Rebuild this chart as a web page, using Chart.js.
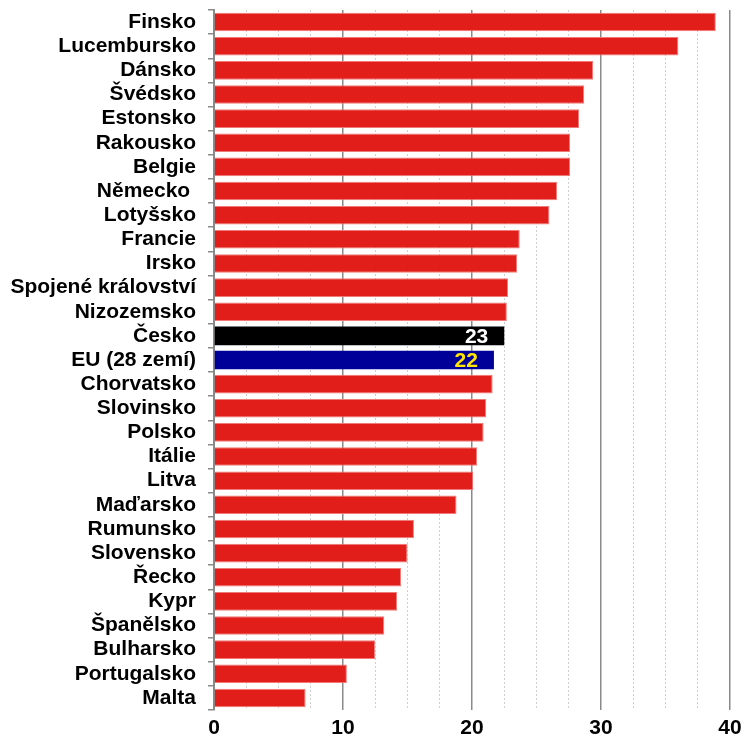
<!DOCTYPE html>
<html>
<head>
<meta charset="utf-8">
<script src="https://cdn.jsdelivr.net/npm/chart.js@4.4.1/dist/chart.umd.min.js"></script>
<style>
  html, body { margin: 0; padding: 0; background: #fff; }
  #obal { width: 744px; height: 744px; }
</style>
</head>
<body>
<div id="obal"><canvas id="graf"></canvas></div>
<script>
const zeme = ['Finsko', 'Lucembursko', 'Dánsko', 'Švédsko', 'Estonsko', 'Rakousko', 'Belgie', 'Německo ', 'Lotyšsko',
    'Francie', 'Irsko', 'Spojené království', 'Nizozemsko', 'Česko', 'EU (28 zemí)', 'Chorvatsko', 'Slovinsko',
    'Polsko', 'Itálie', 'Litva', 'Maďarsko', 'Rumunsko', 'Slovensko', 'Řecko', 'Kypr', 'Španělsko', 'Bulharsko',
    'Portugalsko', 'Malta'];
const hodnoty = [38.9, 36.0, 29.4, 28.7, 28.3, 27.6, 27.6, 26.6, 26.0,
    23.7, 23.5, 22.8, 22.7, 22.5, 21.7, 21.6, 21.1,
    20.9, 20.4, 20.1, 18.8, 15.5, 15.0, 14.5, 14.2, 13.2, 12.5,
    10.3, 7.1];
const osaX = [0, 10, 20, 30, 40];

const PISMO = '"Liberation Sans", Arial, Helvetica, sans-serif';
const CERVENA = '#e21e1a';
const SEDA = '#8a8a8a';

// zvýrazněné řádky: barva sloupce a barva čísla
const zvyrazneni = {
    'Česko': { sloupec: '#000000', text: '#ffffff' },
    'EU (28 zemí)': { sloupec: '#000099', text: '#ffe500' }
};

const popiskyHodnot = {
    id: 'popiskyHodnot',
    afterDatasetsDraw(chart) {
        const ctx = chart.ctx;
        chart.getDatasetMeta(0).data.forEach((bar, i) => {
            const z = zvyrazneni[zeme[i]];
            if (!z) return;
            ctx.save();
            ctx.font = 'bold 21px ' + PISMO;
            ctx.fillStyle = z.text;
            ctx.textAlign = 'right';
            ctx.textBaseline = 'middle';
            ctx.fillText(String(Math.round(hodnoty[i])), bar.x - 16, bar.y + 1);
            ctx.restore();
        });
    }
};

new Chart(document.getElementById('graf'), {
    type: 'bar',
    data: {
        labels: zeme,
        datasets: [{
            data: hodnoty,
            backgroundColor: c => (zvyrazneni[zeme[c.dataIndex]] || { sloupec: CERVENA }).sloupec,
            borderColor: c => zvyrazneni[zeme[c.dataIndex]] ? 'rgba(0,0,0,0)' : '#f07a78',
            borderWidth: c => zvyrazneni[zeme[c.dataIndex]] ? 0 : 1,
            borderSkipped: 'start',
            barPercentage: 0.77,
            categoryPercentage: 1
        }]
    },
    options: {
        indexAxis: 'y',
        responsive: true,
        maintainAspectRatio: false,
        animation: false,
        layout: { padding: { top: 10, right: 0, bottom: 0, left: 0 } },
        plugins: { legend: { display: false }, tooltip: { enabled: false } },
        scales: {
            x: {
                min: 0, max: 40,
                afterFit: s => { s.height = 34; s.paddingLeft = 0; s.paddingRight = 14; },
                ticks: {
                    stepSize: 2.5,
                    autoSkip: false,
                    maxRotation: 0,
                    padding: 6,
                    color: '#000',
                    font: { family: PISMO, size: 21, weight: 'bold' },
                    callback: v => osaX.includes(v) ? String(v) : ''
                },
                grid: {
                    drawTicks: false,
                    color: c => c.tick && c.tick.value % 10 === 0 ? SEDA : '#cfcfcf',
                    lineWidth: c => c.tick && c.tick.value % 10 === 0 ? 1.5 : 1
                },
                border: {
                    display: false,
                    dash: c => c.tick && c.tick.value % 10 === 0 ? [] : [2, 2]
                }
            },
            y: {
                afterFit: s => { s.width = 214; s.paddingTop = 0; s.paddingBottom = 0; },
                ticks: {
                    autoSkip: false,
                    padding: 12,
                    color: '#000',
                    font: { family: PISMO, size: 21, weight: 'bold' }
                },
                grid: {
                    offset: true,
                    drawOnChartArea: false,
                    drawTicks: true,
                    tickLength: 6,
                    color: SEDA,
                    lineWidth: 1.5
                },
                border: { display: true, color: SEDA, width: 2 }
            }
        }
    },
    plugins: [popiskyHodnot]
});
</script>
</body>
</html>
